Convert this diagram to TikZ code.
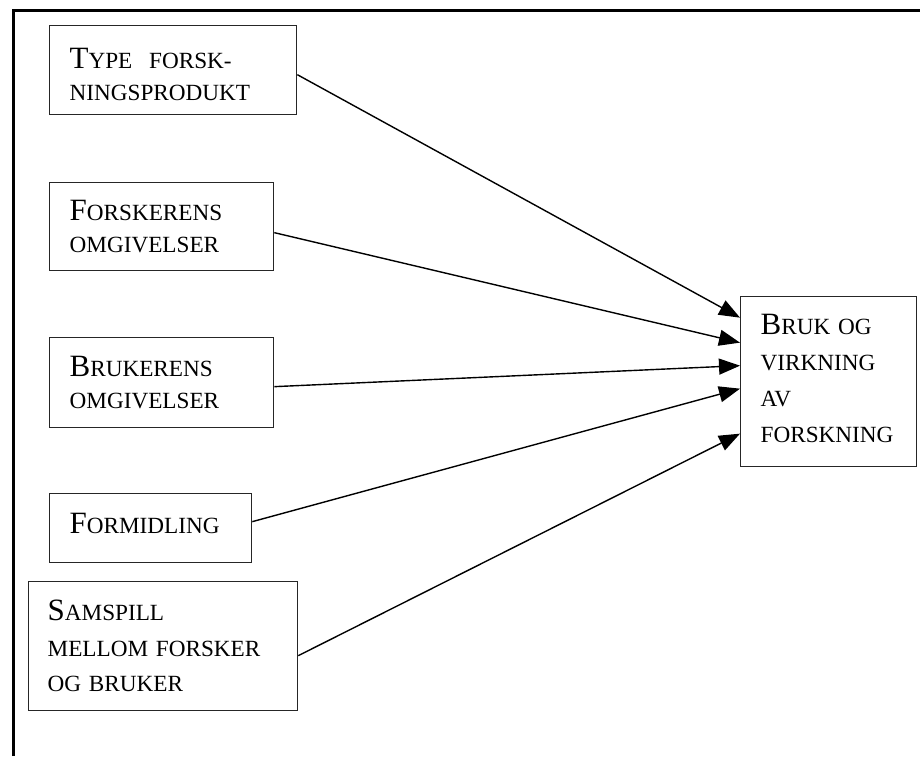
\documentclass[tikz,border=0pt]{standalone}
\usepackage{fontspec}
\setmainfont{Liberation Serif}
\usetikzlibrary{arrows.meta}

% small-caps look: a full-size initial followed by reduced capitals
\newcommand\initcap[1]{{\fontsize{31}{32}\selectfont #1}}

\tikzset{
  frameline/.style={line width=3pt, line join=miter},
  factor/.style={draw=black!85, line width=1.3pt, rectangle, anchor=north west,
    align=left, inner xsep=20pt, inner ysep=0pt,
    font=\fontsize{23.2}{32}\selectfont},
  link/.style={line width=1.4pt, -{Triangle[length=21pt,width=16pt]}},
}

\begin{document}
\begin{tikzpicture}[x=1pt, y=-1pt]
  \useasboundingbox (0,0) rectangle (920,756);

  % page frame (top and left rules)
  \draw[frameline] (13.5,756) -- (13.5,10.5) -- (920,10.5);

  % influencing factors
  \node[factor, text width=207pt, minimum height=89pt] (f1) at (49,25)
    {\rule{0pt}{29pt}\initcap{T}YPE\hspace{9pt} FORSK-\\NINGSPRODUKT};
  \node[factor, text width=184pt, minimum height=88pt] (f2) at (49,182)
    {\initcap{F}ORSKERENS\\OMGIVELSER};
  \node[factor, text width=184pt, minimum height=90pt] (f3) at (49,337)
    {\initcap{B}RUKERENS\\OMGIVELSER};
  \node[factor, text width=162pt, minimum height=69pt] (f4) at (49,493)
    {\initcap{F}ORMIDLING\rule[-10pt]{0pt}{10pt}};
  \node[factor, inner xsep=19pt, text width=231pt, minimum height=129pt,
        font=\fontsize{23.2}{35.5}\selectfont] (f5) at (28,581)
    {\initcap{S}AMSPILL\\MELLOM FORSKER\\OG BRUKER};

  % outcome
  \node[factor, text width=136pt, minimum height=170pt,
        font=\fontsize{23.2}{36}\selectfont] (out) at (740,296)
    {\initcap{B}RUK OG\\VIRKNING\\AV\\FORSKNING\rule[-6pt]{0pt}{6pt}};

  % arrows into the outcome box
  \draw[link] ([yshift=-4.5pt]f1.east) -- ([yshift=64pt]out.west);
  \draw[link] ([yshift=-6pt]f2.east)   -- ([yshift=39pt]out.west);
  \draw[link] ([yshift=-4pt]f3.east)   -- ([yshift=16pt]out.west);
  \draw[link] ([yshift=6.5pt]f4.east)  -- ([yshift=-7pt]out.west);
  \draw[link] ([yshift=-9.5pt]f5.east) -- ([yshift=-52pt]out.west);
\end{tikzpicture}
\end{document}
